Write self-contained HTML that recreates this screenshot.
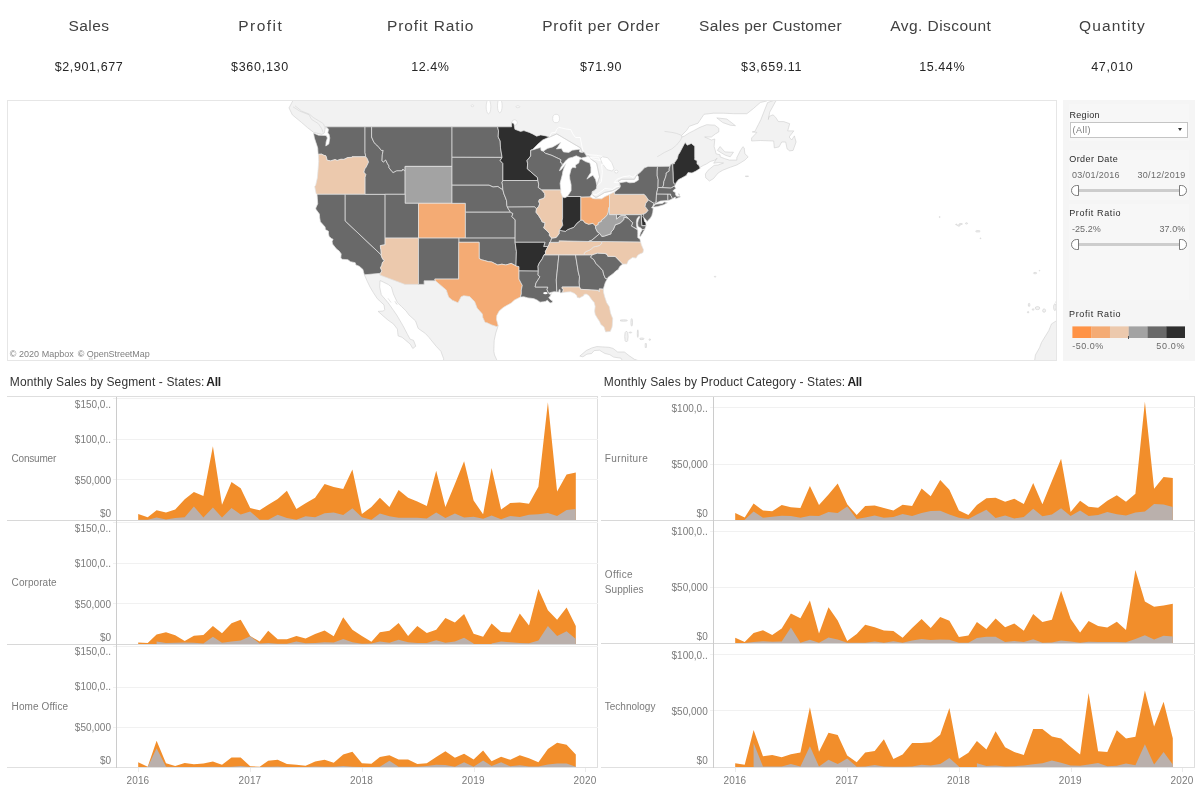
<!DOCTYPE html>
<html lang="en"><head><meta charset="utf-8"><title>Superstore Overview</title>
<style>
html,body{margin:0;padding:0;background:#fff;}
body{width:1200px;height:800px;position:relative;overflow:hidden;font-family:"Liberation Sans",sans-serif;color:#333;}
.abs{position:absolute;}
.t{position:absolute;white-space:pre;}
svg{position:absolute;left:0;top:0;}
</style></head><body>
<svg width="1200" height="800" viewBox="0 0 1200 800">
<defs><clipPath id="mc"><rect x="8" y="101" width="1048" height="259"/></clipPath></defs>
<rect x="7.5" y="100.5" width="1049" height="260" fill="#fff" stroke="#e6e6e6" stroke-width="1"/>
<g clip-path="url(#mc)">
<g fill="#f2f2f2" stroke="#cfcfcf" stroke-width="0.6" stroke-linejoin="round">
<path d="M293.6,89.4 L293.0,100.4 L289.0,107.9 L292.3,114.8 L301.7,122.6 L307.7,127.8 L313.7,132.4 L321.8,134.4 L324.4,132.9 L325.1,128.8 L324.8,127.8 L511.6,127.8 L515.2,130.4 L520.6,132.4 L523.9,131.9 L529.3,133.4 L532.6,134.9 L536.7,137.3 L540.7,135.9 L546.0,137.0 L548.7,137.5 L549.7,137.0 L556.8,133.9 L568.8,141.0 L580.5,147.9 L581.5,151.4 L583.9,151.9 L585.5,153.8 L586.5,156.1 L588.9,155.8 L589.9,158.2 L596.6,163.1 L599.6,176.8 L596.8,185.2 L596.3,188.8 L594.2,190.9 L592.2,192.0 L592.0,194.3 L594.9,197.2 L596.9,197.2 L604.6,192.5 L612.3,190.8 L619.7,187.0 L620.2,186.1 L619.4,182.7 L618.3,181.0 L621.7,179.3 L634.4,179.3 L636.8,174.9 L637.8,174.0 L641.1,172.1 L644.5,168.3 L648.1,166.9 L669.9,166.9 L672.7,164.0 L674.6,163.0 L677.3,159.2 L678.6,154.8 L679.9,152.9 L685.1,143.0 L687.3,146.0 L691.3,144.0 L694.3,146.9 L694.3,159.7 L696.7,160.6 L696.7,164.0 L698.7,165.4 L700.0,167.3 L703.4,165.4 L706.4,164.0 L710.1,161.6 L714.8,160.1 L717.1,158.2 L713.7,163.2 L718.1,162.6 L723.5,163.0 L718.1,165.0 L714.1,165.4 L708.1,170.2 L705.4,174.0 L705.7,177.7 L709.4,181.0 L713.4,178.7 L718.1,173.0 L722.8,170.2 L730.2,167.3 L736.8,165.0 L740.2,163.0 L744.9,160.1 L748.2,156.8 L744.9,153.8 L744.2,147.9 L742.9,146.7 L740.2,150.9 L736.8,157.7 L736.8,160.1 L729.5,160.1 L724.8,158.7 L720.1,156.8 L720.1,154.8 L716.1,153.8 L715.1,149.9 L714.1,146.5 L714.8,139.0 L711.4,140.0 L704.7,137.0 L711.4,137.0 L715.4,133.9 L718.8,131.9 L718.8,128.3 L714.8,125.2 L706.7,124.7 L700.0,127.3 L693.3,130.9 L689.3,132.9 L684.6,135.9 L681.9,137.0 L681.6,135.4 L686.6,130.4 L689.3,126.3 L698.0,123.2 L704.0,114.3 L713.4,113.2 L723.5,113.2 L733.5,113.7 L746.9,113.7 L753.6,108.4 L760.3,102.5 L767.0,100.9 L770.3,94.9 L773.7,89.4Z"/>
<path d="M717.4,150.4 L720.1,146.5 L724.8,151.9 L730.2,152.2 L733.5,152.2 L730.2,156.8 L725.5,155.3 L721.4,152.9Z"/>
<path d="M716.8,117.9 L726.8,119.0 L735.5,125.7 L730.2,125.2 L722.8,122.6Z"/>
<path d="M751.6,141.0 L760.3,140.5 L773.7,141.0 L774.3,147.9 L779.0,146.9 L781.7,142.0 L785.7,142.0 L787.1,148.9 L789.7,150.9 L793.1,150.4 L796.1,142.0 L794.4,135.9 L791.7,140.0 L789.1,137.0 L793.8,130.9 L787.7,130.9 L789.7,123.7 L783.7,121.6 L778.4,121.6 L775.7,117.4 L773.0,114.8 L769.0,116.4 L768.3,119.5 L769.7,112.2 L775.0,102.5 L777.0,99.3 L767.6,102.5 L765.0,109.0 L760.9,119.5 L758.3,124.7 L754.9,131.4 L752.2,131.9 L756.9,132.4 L751.6,138.0Z"/>
<path d="M364.4,274.4 L380.5,272.8 L379.9,274.7 L405.0,283.8 L424.1,283.8 L424.1,280.3 L435.4,280.3 L438.9,283.4 L446.3,289.7 L449.0,296.8 L452.3,299.9 L458.0,302.2 L461.1,296.4 L463.7,295.2 L469.7,296.0 L475.1,301.4 L477.4,308.0 L482.8,313.7 L483.1,317.5 L485.4,322.0 L487.1,322.4 L491.8,324.6 L496.5,326.2 L498.2,325.7 L495.8,332.9 L494.2,340.3 L493.8,351.3 L494.5,355.0 L497.2,360.8 L497.8,365.8 L442.3,365.8 L443.6,362.2 L443.6,358.6 L440.9,351.3 L436.1,346.2 L428.9,337.3 L425.5,333.6 L418.2,328.4 L415.5,320.9 L408.8,314.8 L406.1,311.0 L401.4,306.4 L397.4,302.6 L393.4,294.0 L391.4,287.0 L388.4,284.6 L382.0,281.4 L380.0,280.6 L379.7,287.0 L381.3,294.8 L388.0,302.6 L393.4,310.2 L396.9,315.3 L402.8,325.4 L407.5,334.4 L410.1,339.2 L413.5,340.3 L415.8,346.2 L412.8,348.5 L410.1,344.0 L402.1,337.3 L398.1,335.9 L397.4,329.1 L393.4,323.9 L388.0,320.1 L384.0,316.7 L378.1,311.4 L383.4,311.0 L384.7,309.5 L384.0,304.9 L377.3,298.7 L373.3,292.5 L370.0,287.0 L367.3,281.4 L364.4,274.8Z"/>
<path d="M579.8,356.1 L586.2,350.6 L591.6,348.0 L596.9,346.6 L602.9,346.9 L609.0,347.3 L613.0,348.4 L617.7,352.0 L624.4,352.0 L629.7,356.1 L634.4,359.3 L639.8,361.1 L643.1,364.4 L624.4,364.4 L621.0,358.2 L613.7,357.1 L609.6,354.6 L605.0,353.5 L602.3,352.0 L599.6,350.2 L594.2,350.6 L591.6,353.5 L586.9,354.2 L582.9,356.8Z"/>
<path d="M1061.6,310.2 L1062.2,311.0 L1060.2,313.3 L1057.5,320.1 L1051.5,323.9 L1048.8,330.6 L1042.8,340.3 L1041.5,342.5 L1039.5,347.7 L1035.4,355.0 L1034.4,362.2 L1034.8,369.4 L1068.2,369.4 L1068.2,310.2Z"/>
<ellipse cx="80.7" cy="354.6" rx="1.7" ry="1.3"/>
<ellipse cx="90.8" cy="359.0" rx="1.7" ry="1.3"/>
<ellipse cx="97.5" cy="361.1" rx="2.0" ry="0.7"/>
<ellipse cx="623.7" cy="320.5" rx="3.7" ry="0.7"/>
<ellipse cx="631.7" cy="322.4" rx="0.8" ry="3.8"/>
<ellipse cx="626.4" cy="336.6" rx="1.7" ry="5.4"/>
<ellipse cx="630.4" cy="332.5" rx="1.3" ry="0.5"/>
<ellipse cx="637.8" cy="333.6" rx="0.5" ry="3.8"/>
<ellipse cx="641.8" cy="338.8" rx="2.3" ry="0.8"/>
<ellipse cx="645.8" cy="345.5" rx="0.7" ry="2.5"/>
<ellipse cx="649.8" cy="339.6" rx="0.7" ry="0.8"/>
<ellipse cx="715.1" cy="276.7" rx="0.7" ry="0.5"/>
<ellipse cx="746.9" cy="176.3" rx="1.7" ry="0.3"/>
<ellipse cx="939.7" cy="217.0" rx="0.5" ry="0.5"/>
<ellipse cx="956.4" cy="224.6" rx="0.7" ry="0.5"/>
<ellipse cx="958.8" cy="225.5" rx="1.3" ry="0.7"/>
<ellipse cx="960.8" cy="224.0" rx="1.7" ry="0.5"/>
<ellipse cx="966.5" cy="223.4" rx="1.0" ry="0.7"/>
<ellipse cx="977.9" cy="231.3" rx="2.3" ry="0.7"/>
<ellipse cx="980.5" cy="238.3" rx="0.5" ry="0.4"/>
<ellipse cx="1035.1" cy="273.1" rx="1.7" ry="0.7"/>
<ellipse cx="1039.5" cy="270.7" rx="0.4" ry="0.3"/>
<ellipse cx="1029.1" cy="304.9" rx="0.8" ry="1.7"/>
<ellipse cx="1033.1" cy="309.5" rx="0.8" ry="0.8"/>
<ellipse cx="1028.1" cy="312.2" rx="0.7" ry="0.7"/>
<ellipse cx="1037.5" cy="308.1" rx="2.3" ry="1.5"/>
<ellipse cx="1044.1" cy="310.6" rx="1.5" ry="1.7"/>
<ellipse cx="1054.9" cy="307.2" rx="1.3" ry="3.4"/>
<ellipse cx="1057.2" cy="302.2" rx="1.3" ry="1.5"/>
</g>
<g fill="#fff" stroke="#cfcfcf" stroke-width="0.5">
<ellipse cx="514.6" cy="122.6" rx="2.7" ry="2.8"/>
<ellipse cx="488.5" cy="106.8" rx="2.3" ry="7.0"/>
<ellipse cx="499.8" cy="105.8" rx="2.3" ry="7.0"/>
<ellipse cx="479.8" cy="94.9" rx="3.4" ry="5.6"/>
<ellipse cx="556.1" cy="118.5" rx="3.4" ry="4.2"/>
<ellipse cx="616.3" cy="171.6" rx="1.7" ry="1.4"/>
<ellipse cx="517.9" cy="106.8" rx="2.0" ry="0.9"/>
<ellipse cx="472.4" cy="105.8" rx="1.3" ry="0.9"/>
<path d="M602.3,163.5 L607.0,169.7 L612.3,171.1 L614.0,168.3 L611.7,162.6 L607.6,157.7 L602.3,156.8 L600.3,158.7Z"/>
</g><g fill="none" stroke="#fff" stroke-width="0.9" stroke-linejoin="round">
<path d="M549.7,137.0 L551.4,132.9 L555.4,132.4 L556.8,129.3 L558.8,127.3 L566.1,129.0 L570.8,129.6 L572.8,133.9 L575.5,137.5 L580.2,137.5 L581.5,144.0 L582.2,147.9 L583.5,151.9"/>
<path d="M585.5,153.8 L589.6,154.8 L596.3,155.3 L602.3,156.3"/>
<path d="M604.3,164.0 L601.6,164.5 L602.3,172.1 L601.3,181.9 L598.6,184.7 L596.8,185.6"/>
<path d="M592.2,193.9 L596.3,194.8 L600.3,192.0 L605.0,188.4 L610.3,189.1 L612.7,189.3 L616.3,186.5 L620.0,186.4"/>
<path d="M619.4,182.8 L614.3,182.4 L617.0,179.3 L623.0,176.8 L629.7,175.8 L633.1,177.3 L636.4,174.0"/>
<path d="M588.9,158.2 L594.2,159.2 L600.3,160.6 L598.3,157.2 L592.2,157.2 L588.9,158.2"/>
</g><g fill="none" stroke="#cfcfcf" stroke-width="0.5" stroke-linejoin="round">
<path d="M657.2,156.8 L660.5,154.8 L664.5,152.4 L671.9,148.9 L676.6,145.0 L680.6,140.0 L681.9,137.0"/>
<path d="M664.5,131.4 L671.9,132.4 L676.6,133.4 L681.6,135.4"/>
<path d="M295.0,105.8 L301.7,111.1 L309.7,114.3 L313.1,117.4 L318.4,120.6 L321.8,122.6 L323.8,124.2 L324.4,126.8"/>
<path d="M293.0,106.8 L299.7,111.1 L309.0,114.8 L311.7,119.5 L318.4,123.7 L321.8,128.8 L323.1,132.4"/>
<path d="M549.7,137.0 L556.8,133.9 L568.8,141.0 L580.5,147.9 L581.5,151.4"/>
<path d="M589.9,158.2 L596.6,163.1 L599.6,176.8 L596.8,185.2"/>
<path d="M592.0,194.3 L594.9,197.2 L596.9,197.2 L604.6,192.5 L612.3,190.8 L619.7,187.0"/>
<path d="M618.3,181.0 L621.7,179.3 L634.4,179.3 L636.8,174.9"/>
<path d="M394.7,301.0 L397.1,304.5 L395.4,302.6"/>
<path d="M388.0,298.3 L391.1,302.6"/>
</g>
<g stroke="#e4e4e4" stroke-width="0.7" stroke-linejoin="round">
<path fill="#696969" d="M324.8,126.8 L326.8,127.3 L328.5,129.3 L327.8,132.9 L329.1,134.4 L329.8,138.0 L329.3,141.0 L328.8,144.0 L325.8,146.0 L326.1,142.0 L327.4,138.0 L326.4,135.7 L324.4,135.4 L318.4,135.2 L313.5,133.1 L314.4,138.0 L316.4,144.0 L317.7,147.9 L318.1,154.1 L318.4,154.3 L321.8,154.2 L323.8,155.3 L325.8,155.8 L326.6,158.2 L326.8,160.1 L330.5,160.9 L335.1,159.6 L337.2,160.5 L340.8,159.3 L343.9,159.4 L347.9,157.5 L351.9,157.4 L352.0,156.8 L365.8,156.8 L365.0,152.7 L365.0,126.8Z"/>
<path fill="#ecc9ad" d="M318.4,154.3 L318.7,161.6 L318.1,169.2 L317.4,177.7 L315.7,185.2 L314.7,186.6 L316.1,193.4 L317.0,194.3 L365.1,194.3 L365.1,177.4 L365.9,174.4 L363.9,172.1 L364.9,168.8 L366.3,166.9 L368.6,162.1 L367.3,158.7 L365.8,156.8 L352.0,156.8 L351.9,157.4 L347.9,157.5 L343.9,159.4 L340.8,159.3 L337.2,160.5 L335.1,159.6 L330.5,160.9 L326.8,160.1 L326.6,158.2 L325.8,155.8 L323.8,155.3 L321.8,154.2 L318.4,154.3Z"/>
<path fill="#696969" d="M317.0,194.3 L345.2,194.3 L345.2,220.9 L381.1,254.8 L381.5,256.4 L382.8,259.3 L384.4,260.5 L382.5,262.3 L381.8,265.4 L380.5,267.8 L381.9,270.8 L380.5,273.3 L364.4,274.8 L363.6,272.3 L362.9,269.4 L359.2,266.2 L355.9,265.0 L355.2,262.7 L350.5,261.7 L347.9,259.7 L342.2,259.3 L340.8,258.1 L341.2,253.9 L339.2,251.1 L336.5,249.0 L332.5,244.0 L332.1,241.5 L333.1,239.3 L331.5,238.5 L329.1,236.4 L328.5,233.8 L328.5,231.3 L325.4,229.6 L325.1,227.0 L320.4,221.8 L319.7,217.9 L319.4,214.0 L316.1,209.6 L315.7,208.2 L317.7,203.8 L317.4,198.8 L317.0,194.3Z"/>
<path fill="#696969" d="M345.2,194.3 L385.1,194.3 L385.1,238.1 L385.1,244.8 L382.7,245.2 L380.4,245.6 L380.5,247.7 L381.0,249.8 L381.3,253.9 L381.1,254.8 L345.2,220.9Z"/>
<path fill="#696969" d="M365.0,126.8 L371.6,126.8 L371.6,137.0 L374.0,142.5 L376.7,145.0 L379.0,147.4 L381.3,150.4 L383.2,150.4 L382.3,154.8 L382.0,160.9 L383.4,161.9 L385.7,159.9 L387.4,163.5 L389.0,165.9 L389.0,167.8 L392.1,171.6 L393.1,172.5 L396.7,170.7 L402.1,170.7 L402.8,169.0 L405.1,171.3 L405.1,194.3 L365.1,194.3 L365.1,177.4 L365.9,174.4 L363.9,172.1 L364.9,168.8 L366.3,166.9 L368.6,162.1 L367.3,158.7 L365.8,156.8 L365.0,152.7Z"/>
<path fill="#696969" d="M371.6,126.8 L452.0,126.8 L452.0,166.4 L405.1,166.4 L405.1,171.3 L402.8,169.0 L402.1,170.7 L396.7,170.7 L393.1,172.5 L392.1,171.6 L389.0,167.8 L389.0,165.9 L387.4,163.5 L385.7,159.9 L383.4,161.9 L382.0,160.9 L382.3,154.8 L383.2,150.4 L381.3,150.4 L379.0,147.4 L376.7,145.0 L374.0,142.5 L371.6,137.0 L371.6,126.8Z"/>
<path fill="#a3a3a3" d="M405.1,166.4 L452.0,166.4 L452.0,203.3 L405.1,203.3Z"/>
<path fill="#696969" d="M385.1,194.3 L405.1,194.3 L405.1,203.3 L418.5,203.3 L418.5,238.1 L385.1,238.1Z"/>
<path fill="#f4ab74" d="M418.5,203.3 L465.4,203.3 L465.4,238.1 L418.5,238.1Z"/>
<path fill="#ecc9ad" d="M385.1,238.1 L385.1,244.8 L382.7,245.2 L380.4,245.6 L380.5,247.7 L381.0,249.8 L381.3,253.9 L381.1,254.8 L381.5,256.4 L382.8,259.3 L384.4,260.5 L382.5,262.3 L381.8,265.4 L380.5,267.8 L381.9,270.8 L380.5,273.3 L379.9,275.1 L405.0,284.4 L418.5,284.4 L418.5,238.1Z"/>
<path fill="#696969" d="M418.5,238.1 L459.0,238.1 L458.7,279.1 L434.8,279.1 L435.4,280.8 L424.1,280.8 L424.1,284.4 L418.5,284.4Z"/>
<path fill="#696969" d="M452.0,126.8 L497.6,126.8 L498.5,130.9 L498.2,137.0 L500.2,141.0 L500.5,147.9 L502.1,157.4 L452.0,157.3Z"/>
<path fill="#696969" d="M452.0,157.3 L502.1,157.4 L500.2,160.6 L502.9,163.5 L502.9,180.5 L502.0,182.4 L502.5,185.2 L502.9,189.8 L501.2,188.8 L497.8,186.5 L493.1,187.0 L489.1,185.2 L452.0,185.2Z"/>
<path fill="#696969" d="M452.0,185.2 L489.1,185.2 L493.1,187.0 L497.8,186.5 L501.2,188.8 L502.9,189.8 L503.9,193.9 L505.2,197.0 L506.5,200.6 L506.9,205.6 L507.4,207.1 L508.5,209.1 L510.5,212.2 L465.4,212.2 L465.4,203.3 L452.0,203.3Z"/>
<path fill="#696969" d="M465.4,212.2 L510.5,212.2 L512.9,213.5 L511.9,216.6 L515.2,219.9 L515.1,238.1 L465.4,238.1Z"/>
<path fill="#696969" d="M459.0,238.1 L515.1,238.1 L515.1,242.3 L516.4,251.5 L516.0,265.9 L511.2,263.4 L505.9,265.0 L501.9,264.2 L497.8,265.0 L494.5,263.4 L491.8,262.0 L488.5,261.7 L484.4,260.5 L481.1,259.7 L479.1,258.4 L479.1,242.3 L459.0,242.3Z"/>
<path fill="#f4ab74" d="M458.7,242.3 L479.1,242.3 L479.1,258.4 L481.1,259.7 L484.4,260.5 L488.5,261.7 L491.8,262.0 L494.5,263.4 L497.8,265.0 L501.9,264.2 L505.9,265.0 L511.2,263.4 L516.0,265.9 L519.0,266.6 L519.0,270.9 L519.0,279.1 L520.6,282.2 L522.3,285.4 L521.3,290.1 L521.3,294.0 L520.3,297.1 L514.6,299.9 L511.2,303.0 L506.5,305.6 L503.2,307.6 L499.2,311.0 L496.8,315.6 L496.5,319.4 L498.2,325.7 L496.5,326.5 L491.8,325.0 L487.1,322.8 L485.1,322.4 L482.8,317.5 L482.4,314.1 L477.1,308.1 L474.7,301.8 L469.7,296.6 L463.7,295.7 L461.1,296.8 L458.0,302.8 L452.3,300.2 L448.6,297.1 L446.3,290.1 L438.9,283.8 L435.4,280.8 L434.8,279.1 L458.7,279.1Z"/>
<path fill="#2e2e2e" d="M497.6,126.8 L511.6,126.8 L511.6,122.8 L513.9,123.4 L514.9,129.3 L520.6,131.4 L523.9,130.6 L529.3,132.4 L532.6,133.9 L536.7,136.2 L540.7,134.9 L546.0,135.9 L549.4,137.0 L542.7,140.0 L538.0,144.0 L532.6,149.4 L530.7,150.3 L530.7,156.0 L527.0,160.6 L527.6,163.5 L527.3,168.8 L530.6,171.6 L533.3,174.0 L537.3,177.3 L537.9,180.5 L502.9,180.5 L502.9,163.5 L500.2,160.6 L502.1,157.4 L500.5,147.9 L500.2,141.0 L498.2,137.0 L498.5,130.9 L497.6,126.8Z"/>
<path fill="#696969" d="M502.9,180.5 L537.9,180.5 L538.7,184.2 L538.3,187.5 L541.7,189.8 L544.7,193.4 L545.0,196.1 L543.7,198.4 L539.3,199.7 L538.7,201.5 L539.7,203.8 L538.7,206.4 L536.5,208.8 L534.5,206.9 L507.4,207.1 L506.9,205.6 L506.5,200.6 L505.2,197.0 L503.9,193.9 L502.9,189.8 L502.5,185.2 L502.0,182.4 L502.9,180.5Z"/>
<path fill="#696969" d="M507.4,207.1 L534.5,206.9 L536.5,208.8 L536.0,212.2 L538.7,215.7 L541.4,220.1 L542.0,221.8 L545.0,222.7 L544.7,225.3 L543.7,227.9 L546.7,230.4 L549.4,233.4 L549.4,235.5 L551.7,238.1 L550.7,241.5 L549.7,242.3 L549.1,244.4 L548.0,246.5 L543.6,246.5 L545.0,242.3 L515.1,242.3 L515.2,219.9 L511.9,216.6 L512.9,213.5 L510.5,212.2 L508.5,209.1 L507.4,207.1Z"/>
<path fill="#2e2e2e" d="M515.1,242.3 L545.0,242.3 L543.6,246.5 L548.0,246.5 L545.4,251.5 L545.6,253.7 L544.0,254.8 L542.2,258.9 L539.3,263.0 L538.0,266.2 L538.3,271.1 L519.0,270.9 L519.0,266.6 L516.0,265.9 L516.4,251.5Z"/>
<path fill="#696969" d="M519.0,270.9 L538.3,271.1 L538.0,275.1 L540.0,276.7 L539.0,278.3 L536.0,283.0 L535.1,287.0 L547.8,287.0 L547.0,289.7 L548.7,293.2 L550.1,294.4 L551.4,293.6 L550.1,296.4 L548.7,297.5 L550.7,299.9 L552.7,301.0 L552.1,302.6 L550.1,303.0 L547.4,300.2 L545.4,301.4 L543.4,301.8 L540.0,302.2 L537.3,300.2 L534.0,298.7 L531.3,298.3 L528.0,297.9 L523.9,296.8 L520.3,297.1 L520.3,297.1 L521.3,294.0 L521.3,290.1 L522.3,285.4 L520.6,282.2 L519.0,279.1Z"/>
<path fill="#696969" d="M544.0,254.8 L542.2,258.9 L539.3,263.0 L538.0,266.2 L538.3,271.1 L538.0,275.1 L540.0,276.7 L539.0,278.3 L536.0,283.0 L535.1,287.0 L547.8,287.0 L547.0,289.7 L548.7,293.2 L550.7,292.5 L554.1,291.7 L556.8,291.9 L556.8,291.9 L556.3,279.9 L558.8,255.7 L558.1,254.8Z"/>
<path fill="#696969" d="M558.1,254.8 L558.8,255.7 L556.3,279.9 L556.8,291.9 L558.8,292.1 L559.1,289.7 L560.1,289.7 L560.1,292.9 L562.6,292.6 L562.6,292.6 L563.4,289.7 L562.1,288.2 L562.1,287.0 L579.5,287.0 L579.5,287.0 L579.2,282.2 L579.5,276.7 L578.3,272.1 L575.5,254.9Z"/>
<path fill="#696969" d="M575.5,254.9 L592.2,254.8 L590.6,257.2 L593.9,259.7 L595.9,263.4 L599.8,267.3 L602.9,270.7 L603.6,274.3 L605.3,278.3 L607.3,278.8 L605.3,282.6 L604.3,285.8 L603.3,289.2 L603.3,289.2 L599.3,288.9 L599.3,292.0 L598.3,290.4 L580.5,289.3 L579.5,287.0 L579.2,282.2 L579.5,276.7 L578.3,272.1 L575.5,254.9Z"/>
<path fill="#ecc9ad" d="M562.1,287.0 L579.5,287.0 L580.5,289.3 L598.3,290.4 L599.3,292.0 L599.3,288.9 L603.3,289.2 L603.6,292.5 L604.6,296.4 L606.6,302.6 L609.3,306.8 L610.6,313.3 L612.7,318.6 L612.3,325.4 L612.0,327.3 L610.3,331.4 L607.0,331.8 L605.6,331.9 L604.0,326.9 L600.9,324.6 L599.6,321.6 L597.6,318.6 L595.2,314.4 L594.6,311.0 L595.2,306.4 L594.2,302.6 L591.6,299.5 L588.9,295.6 L586.2,294.0 L583.9,294.4 L583.9,295.6 L579.5,297.9 L577.2,297.4 L576.8,295.6 L574.8,293.6 L570.8,291.8 L566.1,292.1 L562.6,292.6 L562.6,292.6 L563.4,289.7 L562.1,288.2Z"/>
<path fill="#696969" d="M592.2,254.8 L594.2,254.1 L597.3,253.1 L606.0,253.5 L606.0,254.4 L606.8,253.9 L607.8,256.3 L615.2,256.4 L622.7,264.1 L619.7,266.6 L618.3,269.4 L615.7,271.1 L613.3,273.5 L610.0,275.9 L608.3,277.1 L607.3,278.8 L605.3,278.3 L603.6,274.3 L602.9,270.7 L599.8,267.3 L595.9,263.4 L593.9,259.7 L590.6,257.2 L592.2,254.8Z"/>
<path fill="#ecc9ad" d="M584.1,254.8 L592.2,254.8 L594.2,254.1 L597.3,253.1 L606.0,253.5 L606.0,254.4 L606.8,253.9 L607.8,256.3 L615.2,256.4 L622.7,264.1 L622.7,264.1 L626.4,264.0 L626.7,264.2 L628.4,260.5 L632.4,257.6 L636.1,258.1 L637.8,255.2 L639.8,253.9 L642.9,252.7 L643.5,249.8 L641.4,244.8 L640.6,241.9 L601.7,241.5 L601.6,243.6 L599.6,245.5 L595.6,246.5 L593.6,246.9 L591.2,249.0 L589.6,250.1 L586.2,251.5 L584.2,253.1 L584.1,254.8Z"/>
<path fill="#ecc9ad" d="M544.0,254.8 L545.6,253.7 L545.4,251.5 L548.0,246.5 L549.1,244.4 L549.7,242.3 L559.1,242.3 L559.1,240.8 L588.4,241.5 L601.7,241.5 L601.6,243.6 L599.6,245.5 L595.6,246.5 L593.6,246.9 L591.2,249.0 L589.6,250.1 L586.2,251.5 L584.2,253.1 L584.1,254.8Z"/>
<path fill="#696969" d="M549.7,242.3 L550.7,241.5 L551.7,238.1 L556.1,237.5 L559.1,233.8 L559.1,231.3 L560.1,230.4 L565.5,231.3 L567.5,229.7 L570.8,228.3 L573.8,227.3 L576.8,223.3 L580.9,220.1 L582.9,220.1 L584.9,222.7 L588.6,224.2 L592.9,223.3 L595.6,226.0 L595.6,228.1 L597.6,232.1 L599.8,233.5 L594.9,237.7 L591.9,240.2 L588.4,241.5 L559.1,240.8 L559.1,242.3Z"/>
<path fill="#ecc9ad" d="M536.5,208.8 L538.7,206.4 L539.7,203.8 L538.7,201.5 L539.3,199.7 L543.7,198.4 L545.0,196.1 L544.7,193.4 L541.7,189.8 L560.8,189.8 L560.8,192.5 L562.1,195.7 L562.6,197.0 L562.6,217.9 L562.1,220.9 L562.8,225.3 L559.8,229.6 L559.1,231.3 L559.1,233.8 L556.1,237.5 L551.7,238.1 L549.4,235.5 L549.4,233.4 L546.7,230.4 L543.7,227.9 L544.7,225.3 L545.0,222.7 L542.0,221.8 L541.4,220.1 L538.7,215.7 L536.0,212.2 L536.5,208.8Z"/>
<path fill="#2e2e2e" d="M562.6,197.0 L564.8,197.7 L567.3,196.5 L580.9,196.5 L580.9,220.1 L576.8,223.3 L573.8,227.3 L570.8,228.3 L567.5,229.7 L565.5,231.3 L560.1,230.4 L559.1,231.3 L559.8,229.6 L562.8,225.3 L562.1,220.9 L562.6,217.9 L562.6,197.0Z"/>
<path fill="#f4ab74" d="M580.9,197.0 L589.9,196.8 L592.9,198.4 L594.9,198.8 L599.6,198.8 L601.6,198.8 L605.0,196.6 L609.5,194.5 L609.5,206.5 L608.6,208.7 L608.3,212.2 L607.3,214.8 L605.0,217.5 L601.6,220.1 L601.3,221.6 L598.3,222.7 L598.3,224.4 L595.6,226.0 L595.6,226.0 L592.9,223.3 L588.6,224.2 L584.9,222.7 L582.9,220.1 L580.9,220.1Z"/>
<path fill="#696969" d="M567.3,196.5 L580.9,196.5 L580.9,197.0 L589.9,196.8 L591.9,193.9 L592.2,191.6 L593.9,190.7 L596.3,188.8 L596.8,185.2 L595.6,179.6 L592.9,175.2 L590.2,176.8 L586.9,179.1 L588.9,175.4 L590.9,172.6 L590.9,167.3 L589.9,163.0 L585.5,161.6 L581.2,158.9 L579.5,159.7 L578.8,163.0 L575.5,165.0 L575.8,167.8 L572.8,167.3 L571.1,169.2 L569.5,175.4 L569.8,179.1 L571.1,184.7 L571.1,190.7 L568.8,194.3Z"/>
<path fill="#696969" d="M543.2,151.2 L545.4,153.3 L552.1,155.5 L554.1,156.5 L558.8,158.7 L560.8,159.7 L560.4,162.6 L561.8,163.0 L562.1,165.4 L565.5,161.1 L566.8,159.7 L568.8,158.2 L572.8,157.2 L576.2,155.8 L581.4,158.0 L586.9,156.8 L585.5,154.3 L583.9,151.9 L582.2,152.4 L579.5,151.9 L579.8,149.2 L572.2,150.2 L568.8,152.4 L563.4,151.9 L561.4,148.4 L556.4,148.9 L558.1,146.5 L560.8,142.3 L556.1,145.0 L552.7,146.9 L547.4,148.4Z"/>
<path fill="#696969" d="M532.6,149.9 L538.0,148.2 L540.7,147.4 L541.0,150.4 L543.2,151.2 L545.4,153.3 L552.1,155.5 L554.1,156.5 L558.8,158.7 L560.8,159.7 L560.4,162.6 L561.8,163.0 L562.1,165.4 L561.1,166.9 L559.4,170.7 L561.1,169.7 L563.8,166.4 L565.8,163.7 L564.1,167.8 L562.8,171.6 L562.4,174.4 L561.4,178.2 L560.1,183.3 L560.8,189.8 L541.7,189.8 L538.3,187.5 L538.7,184.2 L537.9,180.5 L537.9,180.5 L537.3,177.3 L533.3,174.0 L530.6,171.6 L527.3,168.8 L527.6,163.5 L527.0,160.6 L530.7,156.0 L530.7,150.3Z"/>
<path fill="#ecc9ad" d="M609.5,194.5 L612.3,192.9 L614.6,191.9 L614.6,194.3 L644.1,194.3 L645.8,196.1 L648.5,200.1 L645.8,203.3 L645.1,206.4 L648.1,210.4 L645.8,213.1 L643.8,214.0 L641.2,214.7 L609.5,214.7Z"/>
<path fill="#696969" d="M614.6,194.3 L614.6,191.9 L619.7,187.9 L620.4,186.1 L619.4,182.8 L626.4,181.7 L629.7,182.8 L634.4,182.4 L638.4,180.1 L638.4,176.8 L637.1,174.9 L641.1,171.6 L644.5,167.8 L648.1,166.4 L657.5,166.4 L657.2,171.1 L657.2,175.8 L658.2,179.6 L658.0,187.5 L656.5,193.9 L656.2,200.6 L656.6,201.4 L655.0,202.4 L655.5,203.3 L653.8,204.7 L653.8,203.3 L648.5,200.1 L645.8,196.1 L644.1,194.3Z"/>
<path fill="#696969" d="M652.9,206.9 L654.8,206.9 L657.8,206.6 L663.9,204.7 L667.4,202.7 L664.5,202.0 L662.2,203.5 L659.2,203.8 L655.5,204.2 L654.8,205.1Z"/>
<path fill="#696969" d="M648.5,200.1 L653.8,203.3 L653.0,206.0 L651.5,207.8 L653.2,208.2 L652.8,212.2 L651.8,215.7 L650.5,217.9 L647.1,221.6 L645.1,218.8 L642.8,216.6 L643.1,214.8 L643.8,214.0 L645.8,213.1 L648.1,210.4 L645.1,206.4 L645.8,203.3Z"/>
<path fill="#2e2e2e" d="M641.2,214.7 L643.8,214.0 L642.8,216.6 L643.8,218.3 L644.5,221.4 L645.8,222.7 L646.1,225.7 L641.8,225.7Z"/>
<path fill="#696969" d="M616.5,214.7 L641.2,214.7 L641.8,225.7 L646.1,225.7 L644.8,229.3 L642.3,229.7 L640.8,227.9 L638.0,226.6 L637.6,223.1 L638.3,220.1 L639.8,217.0 L639.1,216.2 L637.0,218.8 L636.4,221.8 L636.6,226.1 L637.3,229.1 L633.7,227.4 L631.4,226.1 L632.7,222.7 L629.7,220.1 L628.2,218.2 L625.0,215.3 L624.0,215.7 L621.0,215.7 L619.0,217.0 L616.5,219.2Z"/>
<path fill="#696969" d="M588.4,241.5 L591.9,240.2 L594.9,237.7 L599.8,233.5 L601.9,236.4 L604.6,236.0 L611.0,233.8 L611.0,232.1 L613.3,229.6 L615.3,224.8 L619.0,223.5 L620.7,222.7 L623.7,219.6 L624.0,217.0 L628.2,218.2 L629.7,220.1 L632.7,222.7 L631.4,226.1 L633.7,227.4 L637.8,230.0 L637.8,233.4 L637.8,237.7 L639.9,238.9 L640.6,241.9 L601.7,241.5Z"/>
<path fill="#696969" d="M642.3,229.7 L644.8,229.3 L642.4,233.4 L640.1,237.1 L639.8,235.5 L640.4,233.0Z"/>
<path fill="#a3a3a3" d="M595.6,226.0 L598.3,224.4 L598.3,222.7 L601.3,221.6 L601.6,220.1 L605.0,217.5 L607.3,214.8 L608.3,212.2 L608.6,208.7 L609.5,206.5 L609.5,214.7 L616.5,214.7 L616.5,219.2 L619.0,217.0 L621.0,215.7 L624.0,215.7 L625.0,215.3 L628.2,218.2 L624.0,217.0 L623.7,219.6 L620.7,222.7 L619.0,223.5 L615.3,224.8 L613.3,229.6 L611.0,232.1 L611.0,233.8 L604.6,236.0 L601.9,236.4 L599.8,233.5 L597.6,232.1 L595.6,228.1 L595.6,226.0Z"/>
<path fill="#696969" d="M656.5,193.9 L667.9,194.1 L667.9,199.6 L667.5,200.5 L660.5,201.1 L655.5,203.3 L655.0,202.4 L656.6,201.4 L656.2,200.6Z"/>
<path fill="#696969" d="M667.9,194.1 L670.7,194.1 L670.7,195.2 L671.9,197.2 L672.4,198.8 L669.9,200.0 L667.5,200.5 L667.9,199.6Z"/>
<path fill="#696969" d="M658.0,187.5 L663.5,187.6 L671.2,187.9 L671.6,187.5 L673.9,186.3 L674.6,186.4 L675.9,188.4 L673.9,189.8 L672.9,191.1 L675.3,192.5 L675.6,194.8 L676.6,196.3 L679.6,196.3 L679.3,193.9 L678.3,193.7 L680.4,197.0 L675.6,198.7 L675.3,197.0 L672.4,198.8 L671.9,197.2 L670.7,195.2 L670.7,194.1 L656.5,193.9Z"/>
<path fill="#696969" d="M657.5,166.4 L669.9,166.3 L669.2,168.8 L669.2,171.1 L666.2,173.0 L666.2,174.9 L665.2,178.2 L663.9,181.5 L663.5,185.2 L662.9,186.5 L663.5,187.6 L658.0,187.5 L658.2,179.6 L657.2,175.8 L657.2,171.1 L657.5,166.4Z"/>
<path fill="#696969" d="M669.9,166.3 L670.6,164.5 L672.7,163.5 L673.2,173.0 L673.4,181.5 L674.4,184.0 L675.3,184.5 L674.4,186.4 L673.9,186.3 L671.6,187.5 L671.2,187.9 L663.5,187.6 L662.9,186.5 L663.5,185.2 L663.9,181.5 L665.2,178.2 L666.2,174.9 L666.2,173.0 L669.2,171.1 L669.2,168.8 L669.9,166.3Z"/>
<path fill="#2e2e2e" d="M672.7,163.5 L674.2,164.0 L674.6,162.6 L677.3,158.7 L678.3,154.8 L679.6,152.9 L685.1,142.4 L686.3,144.0 L687.3,145.2 L691.3,143.4 L694.7,146.3 L694.7,157.7 L694.7,159.7 L697.0,160.6 L697.0,164.0 L698.7,165.0 L700.2,168.3 L696.0,171.1 L692.0,173.0 L688.0,172.6 L686.3,175.4 L681.3,178.2 L678.6,179.6 L676.3,182.4 L675.3,184.5 L674.4,184.0 L673.4,181.5 L673.2,173.0 L672.7,163.5Z"/>
</g>
<ellipse cx="545.4" cy="293.2" rx="2.2" ry="1.1" fill="#fff"/>
</g>
<g fill="none" shape-rendering="crispEdges">
<path d="M7,396.5 H597.5" stroke="#dedede"/>
<path d="M597.5,396.5 V767.5" stroke="#dedede"/>
<path d="M112.5,479.5 H597.5" stroke="#f1f1f1"/>
<path d="M112.5,439.5 H597.5" stroke="#f1f1f1"/>
<path d="M112.5,398.5 H597.5" stroke="#f1f1f1"/>
<path d="M7,520.5 H597.5" stroke="#d8d8d8"/>
<path d="M112.5,603.5 H597.5" stroke="#f1f1f1"/>
<path d="M112.5,563.5 H597.5" stroke="#f1f1f1"/>
<path d="M112.5,522.5 H597.5" stroke="#f1f1f1"/>
<path d="M7,644.5 H597.5" stroke="#d8d8d8"/>
<path d="M112.5,727.5 H597.5" stroke="#f1f1f1"/>
<path d="M112.5,687.5 H597.5" stroke="#f1f1f1"/>
<path d="M112.5,646.5 H597.5" stroke="#f1f1f1"/>
<path d="M7,767.5 H597.5" stroke="#e0e0e0"/>
<path d="M116.5,396.5 V767.5" stroke="#cccccc"/>
</g>
<path d="M138.2,520.0 L138.2,514.0 L147.7,517.3 L156.6,510.2 L166.0,512.6 L175.2,509.5 L184.7,499.2 L193.9,492.0 L203.4,496.0 L212.9,446.3 L222.0,504.8 L231.5,482.1 L240.7,488.3 L250.2,508.1 L259.7,510.2 L268.2,504.8 L277.7,498.9 L286.9,490.7 L296.4,509.0 L305.6,503.2 L315.1,497.8 L324.6,484.0 L333.7,487.0 L343.2,488.9 L352.4,469.6 L361.9,514.0 L371.4,507.0 L379.9,497.8 L389.4,507.0 L398.6,489.9 L408.1,497.8 L417.3,501.6 L426.8,505.9 L436.2,470.7 L445.4,507.0 L454.9,484.0 L464.1,461.3 L473.6,500.5 L483.1,514.3 L491.6,468.0 L501.1,509.4 L510.3,503.0 L519.8,502.5 L529.0,503.8 L538.4,486.7 L547.9,402.2 L557.1,491.6 L566.6,474.5 L575.8,472.6 L575.8,520.0 Z" fill="#f28e2b"/>
<path d="M138.2,520.0 L138.2,519.7 L147.7,519.8 L156.6,517.5 L166.0,519.5 L175.2,518.0 L184.7,517.3 L193.9,506.5 L203.4,517.6 L212.9,507.5 L222.0,517.4 L231.5,508.1 L240.7,514.4 L250.2,511.5 L259.7,519.8 L268.2,519.8 L277.7,514.8 L286.9,518.0 L296.4,519.7 L305.6,516.2 L315.1,517.3 L324.6,513.2 L333.7,512.6 L343.2,515.1 L352.4,508.3 L361.9,517.3 L371.4,519.8 L379.9,513.5 L389.4,516.2 L398.6,517.8 L408.1,517.8 L417.3,517.8 L426.8,518.5 L436.2,512.6 L445.4,518.0 L454.9,513.5 L464.1,517.6 L473.6,516.7 L483.1,518.7 L491.6,515.5 L501.1,519.2 L510.3,516.0 L519.8,517.1 L529.0,514.8 L538.4,514.3 L547.9,513.0 L557.1,516.0 L566.6,510.0 L575.8,509.0 L575.8,520.0 Z" fill="#bab0ac"/>
<path d="M138.2,644.0 L138.2,642.5 L147.7,643.0 L156.6,634.4 L166.0,632.2 L175.2,635.3 L184.7,640.9 L193.9,635.7 L203.4,635.1 L212.9,625.9 L222.0,633.3 L231.5,623.2 L240.7,619.7 L250.2,635.9 L259.7,641.6 L268.2,630.8 L277.7,639.2 L286.9,639.2 L296.4,636.0 L305.6,638.4 L315.1,634.0 L324.6,630.5 L333.7,636.2 L343.2,617.2 L352.4,629.7 L361.9,635.9 L371.4,641.8 L379.9,632.2 L389.4,630.8 L398.6,623.0 L408.1,636.0 L417.3,625.9 L426.8,633.0 L436.2,629.7 L445.4,618.0 L454.9,622.4 L464.1,614.0 L473.6,633.8 L483.1,636.7 L491.6,623.5 L501.1,632.1 L510.3,632.4 L519.8,613.4 L529.0,625.4 L538.4,589.1 L547.9,610.2 L557.1,619.7 L566.6,607.5 L575.8,625.9 L575.8,644.0 Z" fill="#f28e2b"/>
<path d="M156.6,644.0 L156.6,641.6 L166.0,643.0 L175.2,642.7 L184.7,642.5 L193.9,642.7 L203.4,643.6 L212.9,636.7 L222.0,642.7 L231.5,641.4 L240.7,640.5 L250.2,636.2 L259.7,643.6 L268.2,643.0 L277.7,643.8 L286.9,643.8 L296.4,641.6 L305.6,643.2 L315.1,642.9 L324.6,642.2 L333.7,642.4 L343.2,639.1 L352.4,642.2 L361.9,643.8 L371.4,643.6 L379.9,641.4 L389.4,642.7 L398.6,639.8 L408.1,642.2 L417.3,643.0 L426.8,643.0 L436.2,640.3 L445.4,642.7 L454.9,641.6 L464.1,637.8 L473.6,643.4 L473.6,644.0 Z M491.6,644.0 L491.6,643.6 L501.1,641.4 L510.3,642.2 L519.8,642.9 L529.0,643.2 L538.4,640.5 L547.9,625.9 L557.1,636.0 L566.6,631.3 L575.8,638.9 L575.8,644.0 Z" fill="#bab0ac"/>
<path d="M138.2,767.0 L138.2,762.3 L147.7,766.7 L156.6,740.7 L166.0,763.2 L175.2,765.9 L184.7,763.1 L193.9,764.2 L203.4,763.6 L212.9,761.6 L222.0,764.8 L231.5,757.5 L240.7,757.5 L250.2,766.3 L259.7,766.8 L268.2,760.7 L277.7,759.8 L286.9,764.0 L296.4,764.8 L305.6,765.8 L315.1,761.6 L324.6,759.8 L333.7,762.7 L343.2,754.4 L352.4,751.7 L361.9,763.2 L371.4,763.7 L379.9,756.9 L389.4,755.3 L398.6,759.4 L408.1,759.4 L417.3,764.0 L426.8,763.2 L436.2,756.9 L445.4,751.3 L454.9,757.7 L464.1,753.7 L473.6,759.6 L483.1,750.4 L491.6,761.3 L501.1,756.7 L510.3,759.8 L519.8,755.3 L529.0,758.3 L538.4,762.3 L547.9,749.0 L557.1,742.8 L566.6,744.7 L575.8,754.4 L575.8,767.0 Z" fill="#f28e2b"/>
<path d="M147.7,767.0 L147.7,767.0 L156.6,748.3 L166.0,766.8 L175.2,766.9 L184.7,766.9 L193.9,766.9 L203.4,766.9 L212.9,766.8 L222.0,766.9 L231.5,766.7 L240.7,766.1 L250.2,766.9 L259.7,766.9 L268.2,766.8 L277.7,766.4 L286.9,766.9 L296.4,766.9 L305.6,766.9 L315.1,766.5 L324.6,766.8 L333.7,766.7 L343.2,766.1 L352.4,766.8 L361.9,766.9 L371.4,766.9 L379.9,766.8 L389.4,760.7 L398.6,766.8 L408.1,766.8 L417.3,766.8 L426.8,765.9 L436.2,764.8 L445.4,765.0 L454.9,766.8 L464.1,762.3 L473.6,766.8 L483.1,760.5 L491.6,766.1 L501.1,762.3 L510.3,766.3 L519.8,765.3 L529.0,766.6 L538.4,766.6 L547.9,764.5 L557.1,763.4 L566.6,763.4 L575.8,766.8 L575.8,767.0 Z" fill="#bab0ac"/>
<path d="M138.5,768 v4" stroke="#ececec" fill="none"/>
<path d="M250.5,768 v4" stroke="#ececec" fill="none"/>
<path d="M362.5,768 v4" stroke="#ececec" fill="none"/>
<path d="M474.5,768 v4" stroke="#ececec" fill="none"/>
<path d="M585.5,768 v4" stroke="#ececec" fill="none"/>
<g fill="none" shape-rendering="crispEdges">
<path d="M600.5,396.5 H1194.5" stroke="#dedede"/>
<path d="M1194.5,396.5 V767.5" stroke="#dedede"/>
<path d="M709.5,464.5 H1194.5" stroke="#f1f1f1"/>
<path d="M709.5,407.5 H1194.5" stroke="#f1f1f1"/>
<path d="M600.5,520.5 H1194.5" stroke="#d8d8d8"/>
<path d="M709.5,587.5 H1194.5" stroke="#f1f1f1"/>
<path d="M709.5,531.5 H1194.5" stroke="#f1f1f1"/>
<path d="M600.5,643.5 H1194.5" stroke="#d8d8d8"/>
<path d="M709.5,710.5 H1194.5" stroke="#f1f1f1"/>
<path d="M709.5,654.5 H1194.5" stroke="#f1f1f1"/>
<path d="M600.5,767.5 H1194.5" stroke="#e0e0e0"/>
<path d="M713.5,396.5 V767.5" stroke="#cccccc"/>
</g>
<path d="M735.2,520.0 L735.2,513.0 L744.7,517.6 L753.6,503.4 L763.0,510.6 L772.2,511.3 L781.7,505.0 L790.9,507.3 L800.4,507.9 L809.9,486.1 L819.0,505.0 L828.5,494.5 L837.7,483.5 L847.2,504.3 L856.7,515.1 L865.2,505.9 L874.7,505.4 L883.9,508.1 L893.4,510.5 L902.6,504.8 L912.1,506.1 L921.6,488.6 L930.7,496.2 L940.2,479.9 L949.4,489.7 L958.9,510.5 L968.4,514.9 L976.9,505.0 L986.4,498.3 L995.6,497.8 L1005.1,501.8 L1014.3,498.7 L1023.8,504.0 L1033.2,482.9 L1042.4,504.3 L1051.9,481.0 L1061.1,458.8 L1070.6,511.9 L1080.1,500.8 L1088.6,506.7 L1098.1,507.8 L1107.3,500.8 L1116.8,495.3 L1126.0,501.8 L1135.4,493.7 L1144.9,401.7 L1154.1,488.8 L1163.6,477.0 L1172.8,478.1 L1172.8,520.0 Z" fill="#f28e2b"/>
<path d="M744.7,520.0 L744.7,519.8 L753.6,511.5 L763.0,517.8 L772.2,516.7 L781.7,515.7 L790.9,515.9 L800.4,517.8 L809.9,515.7 L819.0,515.9 L828.5,511.9 L837.7,513.0 L847.2,506.4 L856.7,519.1 L865.2,517.5 L874.7,515.4 L883.9,517.8 L893.4,517.0 L902.6,514.0 L912.1,516.0 L921.6,513.0 L930.7,511.0 L940.2,510.8 L949.4,514.4 L958.9,517.8 L968.4,519.1 L976.9,514.6 L986.4,509.7 L995.6,518.0 L1005.1,515.4 L1014.3,518.4 L1023.8,517.0 L1033.2,508.8 L1042.4,516.2 L1051.9,514.4 L1061.1,508.3 L1070.6,516.1 L1080.1,510.6 L1088.6,515.9 L1098.1,515.1 L1107.3,511.9 L1116.8,514.3 L1126.0,515.5 L1135.4,512.4 L1144.9,511.6 L1154.1,504.1 L1163.6,504.6 L1172.8,507.0 L1172.8,520.0 Z" fill="#bab0ac"/>
<path d="M735.2,643.0 L735.2,637.8 L744.7,641.9 L753.6,632.9 L763.0,630.2 L772.2,635.1 L781.7,628.6 L790.9,613.4 L800.4,618.3 L809.9,600.4 L819.0,633.5 L828.5,607.2 L837.7,620.5 L847.2,641.0 L856.7,634.0 L865.2,624.8 L874.7,627.3 L883.9,630.4 L893.4,631.1 L902.6,637.8 L912.1,628.0 L921.6,619.1 L930.7,628.0 L940.2,617.0 L949.4,620.8 L958.9,636.9 L968.4,635.6 L976.9,621.9 L986.4,629.1 L995.6,618.6 L1005.1,627.2 L1014.3,623.5 L1023.8,630.8 L1033.2,614.0 L1042.4,621.9 L1051.9,619.7 L1061.1,590.7 L1070.6,618.8 L1080.1,632.5 L1088.6,620.9 L1098.1,626.0 L1107.3,627.6 L1116.8,621.7 L1126.0,630.1 L1135.4,570.0 L1144.9,601.6 L1154.1,606.7 L1163.6,605.4 L1172.8,603.8 L1172.8,643.0 Z" fill="#f28e2b"/>
<path d="M744.7,643.0 L744.7,642.9 L753.6,641.9 L763.0,641.3 L772.2,641.8 L781.7,641.4 L790.9,627.5 L800.4,642.7 L809.9,639.7 L819.0,642.7 L828.5,637.6 L837.7,639.4 L847.2,642.7 L856.7,642.7 L865.2,642.7 L874.7,641.4 L883.9,642.7 L893.4,641.3 L902.6,642.7 L912.1,640.5 L921.6,638.9 L930.7,640.0 L940.2,639.4 L949.4,639.7 L958.9,642.7 L968.4,642.7 L976.9,638.0 L986.4,636.7 L995.6,636.7 L1005.1,642.1 L1014.3,641.0 L1023.8,642.1 L1033.2,639.2 L1042.4,642.7 L1051.9,642.5 L1061.1,640.5 L1070.6,641.5 L1080.1,642.8 L1088.6,641.7 L1098.1,641.9 L1107.3,642.0 L1116.8,642.0 L1126.0,642.2 L1135.4,639.0 L1144.9,635.2 L1154.1,639.5 L1163.6,635.7 L1172.8,636.5 L1172.8,643.0 Z" fill="#bab0ac"/>
<path d="M735.2,767.0 L735.2,763.2 L744.7,764.8 L753.6,730.0 L763.0,756.2 L772.2,754.9 L781.7,757.2 L790.9,754.3 L800.4,752.5 L809.9,707.2 L819.0,751.8 L828.5,732.7 L837.7,735.1 L847.2,755.6 L856.7,762.3 L865.2,752.4 L874.7,750.9 L883.9,739.2 L893.4,759.0 L902.6,754.6 L912.1,743.0 L921.6,743.0 L930.7,742.2 L940.2,734.8 L949.4,708.1 L958.9,758.8 L968.4,752.8 L976.9,741.0 L986.4,749.4 L995.6,731.2 L1005.1,747.3 L1014.3,752.0 L1023.8,755.1 L1033.2,729.1 L1042.4,728.9 L1051.9,736.4 L1061.1,738.6 L1070.6,746.8 L1080.1,754.6 L1088.6,692.9 L1098.1,751.3 L1107.3,751.9 L1116.8,730.2 L1126.0,738.5 L1135.4,736.7 L1144.9,690.5 L1154.1,726.6 L1163.6,701.8 L1172.8,738.3 L1172.8,767.0 Z" fill="#f28e2b"/>
<path d="M753.6,767.0 L753.6,743.0 L763.0,766.6 L772.2,766.6 L781.7,766.4 L790.9,764.1 L800.4,766.6 L809.9,746.2 L819.0,766.6 L828.5,759.7 L837.7,764.1 L847.2,758.5 L856.7,766.7 L865.2,766.5 L874.7,765.0 L883.9,766.5 L893.4,766.8 L902.6,766.8 L912.1,766.5 L921.6,764.7 L930.7,765.6 L940.2,764.1 L949.4,757.9 L958.9,766.5 L958.9,767.0 Z M976.9,767.0 L976.9,763.2 L986.4,765.9 L995.6,765.4 L1005.1,766.6 L1014.3,766.2 L1023.8,765.6 L1033.2,764.3 L1042.4,763.2 L1051.9,760.5 L1061.1,762.7 L1070.6,765.6 L1080.1,765.7 L1088.6,764.6 L1098.1,763.0 L1107.3,766.2 L1116.8,765.8 L1126.0,763.4 L1135.4,765.3 L1144.9,744.2 L1154.1,764.6 L1163.6,751.9 L1172.8,764.6 L1172.8,767.0 Z" fill="#bab0ac"/>
<path d="M735.5,768 v4" stroke="#ececec" fill="none"/>
<path d="M847.5,768 v4" stroke="#ececec" fill="none"/>
<path d="M959.5,768 v4" stroke="#ececec" fill="none"/>
<path d="M1071.5,768 v4" stroke="#ececec" fill="none"/>
<path d="M1182.5,768 v4" stroke="#ececec" fill="none"/>
</svg>
<div class="abs" style="left:1063px;top:100px;width:132px;height:261px;background:#f5f5f5"></div>
<div class="abs" style="left:1069px;top:104px;width:120px;height:37px;background:#f7f7f7"></div>
<div class="abs" style="left:1069px;top:150px;width:120px;height:50px;background:#f7f7f7"></div>
<div class="abs" style="left:1069px;top:204px;width:120px;height:96px;background:#f7f7f7"></div>
<div class="abs" style="left:1070px;top:122px;width:116px;height:14px;background:#fff;border:1px solid #c4c4c4;box-sizing:content-box"></div>
<div class="abs" style="left:1177.5px;top:128px;width:0;height:0;border-left:2.5px solid transparent;border-right:2.5px solid transparent;border-top:3.5px solid #333"></div>
<svg width="1200" height="800" viewBox="0 0 1200 800">
<rect x="1078" y="189" width="102" height="3" fill="#cdcdcd"/>
<path d="M1078.5,185.5 h-2 a5,5 0 0 0 0,10 h2 z" fill="#fff" stroke="#6e6e6e" stroke-width="0.9"/>
<path d="M1179.5,185.5 h2 a5,5 0 0 1 0,10 h-2 z" fill="#fff" stroke="#6e6e6e" stroke-width="0.9"/>
<rect x="1078" y="243" width="102" height="3" fill="#cdcdcd"/>
<path d="M1078.5,239.5 h-2 a5,5 0 0 0 0,10 h2 z" fill="#fff" stroke="#6e6e6e" stroke-width="0.9"/>
<path d="M1179.5,239.5 h2 a5,5 0 0 1 0,10 h-2 z" fill="#fff" stroke="#6e6e6e" stroke-width="0.9"/>
<rect x="1072.40" y="326.4" width="18.90" height="11.6" fill="#ff9346"/>
<rect x="1091.17" y="326.4" width="18.90" height="11.6" fill="#f4ab74"/>
<rect x="1109.94" y="326.4" width="18.90" height="11.6" fill="#ecc9ad"/>
<rect x="1128.71" y="326.4" width="18.90" height="11.6" fill="#a3a3a3"/>
<rect x="1147.48" y="326.4" width="18.90" height="11.6" fill="#696969"/>
<rect x="1166.25" y="326.4" width="18.75" height="11.6" fill="#2e2e2e"/>
<rect x="1128" y="336" width="1" height="3" fill="#555"/>
</svg>
<div class="t" style="left:68.57px;top:16.33px;font-size:15.5px;line-height:20px;color:#414141;letter-spacing:0.395px">Sales</div>
<div class="t" style="left:54.75px;top:58.67px;font-size:12.5px;line-height:16px;color:#262626;letter-spacing:0.604px">$2,901,677</div>
<div class="t" style="left:238.27px;top:16.33px;font-size:15.5px;line-height:20px;color:#414141;letter-spacing:1.455px">Profit</div>
<div class="t" style="left:231.00px;top:58.67px;font-size:12.5px;line-height:16px;color:#262626;letter-spacing:0.730px">$360,130</div>
<div class="t" style="left:387.07px;top:16.33px;font-size:15.5px;line-height:20px;color:#414141;letter-spacing:0.881px">Profit Ratio</div>
<div class="t" style="left:411.25px;top:58.67px;font-size:12.5px;line-height:16px;color:#262626;letter-spacing:0.574px">12.4%</div>
<div class="t" style="left:542.32px;top:16.33px;font-size:15.5px;line-height:20px;color:#414141;letter-spacing:0.703px">Profit per Order</div>
<div class="t" style="left:580.00px;top:58.67px;font-size:12.5px;line-height:16px;color:#262626;letter-spacing:0.653px">$71.90</div>
<div class="t" style="left:699.07px;top:16.33px;font-size:15.5px;line-height:20px;color:#414141;letter-spacing:0.331px">Sales per Customer</div>
<div class="t" style="left:741.00px;top:58.67px;font-size:12.5px;line-height:16px;color:#262626;letter-spacing:0.727px">$3,659.11</div>
<div class="t" style="left:890.32px;top:16.33px;font-size:15.5px;line-height:20px;color:#414141;letter-spacing:0.438px">Avg. Discount</div>
<div class="t" style="left:919.25px;top:58.67px;font-size:12.5px;line-height:16px;color:#262626;letter-spacing:0.569px">15.44%</div>
<div class="t" style="left:1079.07px;top:16.33px;font-size:15.5px;line-height:20px;color:#414141;letter-spacing:1.125px">Quantity</div>
<div class="t" style="left:1091.25px;top:58.67px;font-size:12.5px;line-height:16px;color:#262626;letter-spacing:0.653px">47,010</div>
<div class="t" style="left:9.76px;top:347.88px;font-size:9px;line-height:12px;color:#808080;letter-spacing:0.033px">© 2020 Mapbox</div>
<div class="t" style="left:77.76px;top:347.88px;font-size:9px;line-height:12px;color:#808080;letter-spacing:-0.049px">© OpenStreetMap</div>
<div class="t" style="left:1069.46px;top:108.78px;font-size:9px;line-height:12px;color:#2b2b2b;letter-spacing:0.310px">Region</div>
<div class="t" style="left:1072.46px;top:123.98px;font-size:9px;line-height:12px;color:#7a7a7a;letter-spacing:0.520px">(All)</div>
<div class="t" style="left:1069.21px;top:152.98px;font-size:9px;line-height:12px;color:#2b2b2b;letter-spacing:0.450px">Order Date</div>
<div class="t" style="left:1071.96px;top:168.63px;font-size:9px;line-height:12px;color:#6b6b6b;letter-spacing:0.281px">03/01/2016</div>
<div class="t" style="left:1137.46px;top:168.63px;font-size:9px;line-height:12px;color:#6b6b6b;letter-spacing:0.309px">30/12/2019</div>
<div class="t" style="left:1069.21px;top:206.78px;font-size:9px;line-height:12px;color:#2b2b2b;letter-spacing:0.618px">Profit Ratio</div>
<div class="t" style="left:1071.96px;top:222.78px;font-size:9px;line-height:12px;color:#6b6b6b;letter-spacing:0.060px">-25.2%</div>
<div class="t" style="left:1159.46px;top:222.78px;font-size:9px;line-height:12px;color:#6b6b6b;letter-spacing:0.075px">37.0%</div>
<div class="t" style="left:1069.06px;top:307.98px;font-size:9px;line-height:12px;color:#2b2b2b;letter-spacing:0.632px">Profit Ratio</div>
<div class="t" style="left:1072.16px;top:340.48px;font-size:9px;line-height:12px;color:#6b6b6b;letter-spacing:0.510px">-50.0%</div>
<div class="t" style="left:1156.36px;top:340.48px;font-size:9px;line-height:12px;color:#6b6b6b;letter-spacing:0.662px">50.0%</div>
<div class="t" style="left:9.78px;top:373.84px;font-size:12px;line-height:16px;color:#333;letter-spacing:0.119px">Monthly Sales by Segment - States:</div>
<div class="t" style="left:206.28px;top:373.84px;font-size:12px;line-height:16px;color:#222;letter-spacing:-0.202px;font-weight:bold">All</div>
<div class="t" style="left:603.78px;top:373.84px;font-size:12px;line-height:16px;color:#333;letter-spacing:0.127px">Monthly Sales by Product Category - States:</div>
<div class="t" style="left:847.53px;top:373.84px;font-size:12px;line-height:16px;color:#222;letter-spacing:-0.327px;font-weight:bold">All</div>
<div class="t" style="right:1089.00px;top:398.04px;font-size:10px;line-height:13px;color:#7b7b7b">$150,0..</div>
<div class="t" style="right:1089.00px;top:433.34px;font-size:10px;line-height:13px;color:#7b7b7b">$100,0..</div>
<div class="t" style="right:1089.00px;top:473.64px;font-size:10px;line-height:13px;color:#7b7b7b">$50,000</div>
<div class="t" style="right:1089.00px;top:506.94px;font-size:10px;line-height:13px;color:#7b7b7b">$0</div>
<div class="t" style="right:1089.00px;top:522.03px;font-size:10px;line-height:13px;color:#7b7b7b">$150,0..</div>
<div class="t" style="right:1089.00px;top:557.33px;font-size:10px;line-height:13px;color:#7b7b7b">$100,0..</div>
<div class="t" style="right:1089.00px;top:597.63px;font-size:10px;line-height:13px;color:#7b7b7b">$50,000</div>
<div class="t" style="right:1089.00px;top:630.93px;font-size:10px;line-height:13px;color:#7b7b7b">$0</div>
<div class="t" style="right:1089.00px;top:645.03px;font-size:10px;line-height:13px;color:#7b7b7b">$150,0..</div>
<div class="t" style="right:1089.00px;top:680.33px;font-size:10px;line-height:13px;color:#7b7b7b">$100,0..</div>
<div class="t" style="right:1089.00px;top:720.63px;font-size:10px;line-height:13px;color:#7b7b7b">$50,000</div>
<div class="t" style="right:1089.00px;top:753.93px;font-size:10px;line-height:13px;color:#7b7b7b">$0</div>
<div class="t" style="right:492.30px;top:401.94px;font-size:10px;line-height:13px;color:#7b7b7b">$100,0..</div>
<div class="t" style="right:492.30px;top:458.14px;font-size:10px;line-height:13px;color:#7b7b7b">$50,000</div>
<div class="t" style="right:492.30px;top:507.33px;font-size:10px;line-height:13px;color:#7b7b7b">$0</div>
<div class="t" style="right:492.30px;top:524.93px;font-size:10px;line-height:13px;color:#7b7b7b">$100,0..</div>
<div class="t" style="right:492.30px;top:581.13px;font-size:10px;line-height:13px;color:#7b7b7b">$50,000</div>
<div class="t" style="right:492.30px;top:630.33px;font-size:10px;line-height:13px;color:#7b7b7b">$0</div>
<div class="t" style="right:492.30px;top:648.93px;font-size:10px;line-height:13px;color:#7b7b7b">$100,0..</div>
<div class="t" style="right:492.30px;top:705.13px;font-size:10px;line-height:13px;color:#7b7b7b">$50,000</div>
<div class="t" style="right:492.30px;top:754.33px;font-size:10px;line-height:13px;color:#7b7b7b">$0</div>
<div class="t" style="left:11.60px;top:452.14px;font-size:10px;line-height:13px;color:#7b7b7b;letter-spacing:-0.206px">Consumer</div>
<div class="t" style="left:11.60px;top:576.13px;font-size:10px;line-height:13px;color:#7b7b7b;letter-spacing:0.066px">Corporate</div>
<div class="t" style="left:11.60px;top:699.63px;font-size:10px;line-height:13px;color:#7b7b7b;letter-spacing:0.111px">Home Office</div>
<div class="t" style="left:604.80px;top:452.14px;font-size:10px;line-height:13px;color:#7b7b7b;letter-spacing:0.361px">Furniture</div>
<div class="t" style="left:604.80px;top:568.34px;font-size:10px;line-height:13px;color:#7b7b7b;letter-spacing:0.373px">Office</div>
<div class="t" style="left:604.80px;top:583.03px;font-size:10px;line-height:13px;color:#7b7b7b;letter-spacing:0.049px">Supplies</div>
<div class="t" style="left:604.80px;top:699.63px;font-size:10px;line-height:13px;color:#7b7b7b">Technology</div>
<div class="t" style="left:126.40px;top:774.24px;font-size:10px;line-height:13px;color:#7b7b7b;letter-spacing:0.183px">2016</div>
<div class="t" style="left:723.40px;top:774.24px;font-size:10px;line-height:13px;color:#7b7b7b;letter-spacing:0.183px">2016</div>
<div class="t" style="left:238.40px;top:774.24px;font-size:10px;line-height:13px;color:#7b7b7b;letter-spacing:0.183px">2017</div>
<div class="t" style="left:835.40px;top:774.24px;font-size:10px;line-height:13px;color:#7b7b7b;letter-spacing:0.183px">2017</div>
<div class="t" style="left:350.09px;top:774.24px;font-size:10px;line-height:13px;color:#7b7b7b;letter-spacing:0.183px">2018</div>
<div class="t" style="left:947.09px;top:774.24px;font-size:10px;line-height:13px;color:#7b7b7b;letter-spacing:0.183px">2018</div>
<div class="t" style="left:461.78px;top:774.24px;font-size:10px;line-height:13px;color:#7b7b7b;letter-spacing:0.183px">2019</div>
<div class="t" style="left:1058.78px;top:774.24px;font-size:10px;line-height:13px;color:#7b7b7b;letter-spacing:0.183px">2019</div>
<div class="t" style="left:573.47px;top:774.24px;font-size:10px;line-height:13px;color:#7b7b7b;letter-spacing:0.183px">2020</div>
<div class="t" style="left:1170.47px;top:774.24px;font-size:10px;line-height:13px;color:#7b7b7b;letter-spacing:0.183px">2020</div>
</body></html>
